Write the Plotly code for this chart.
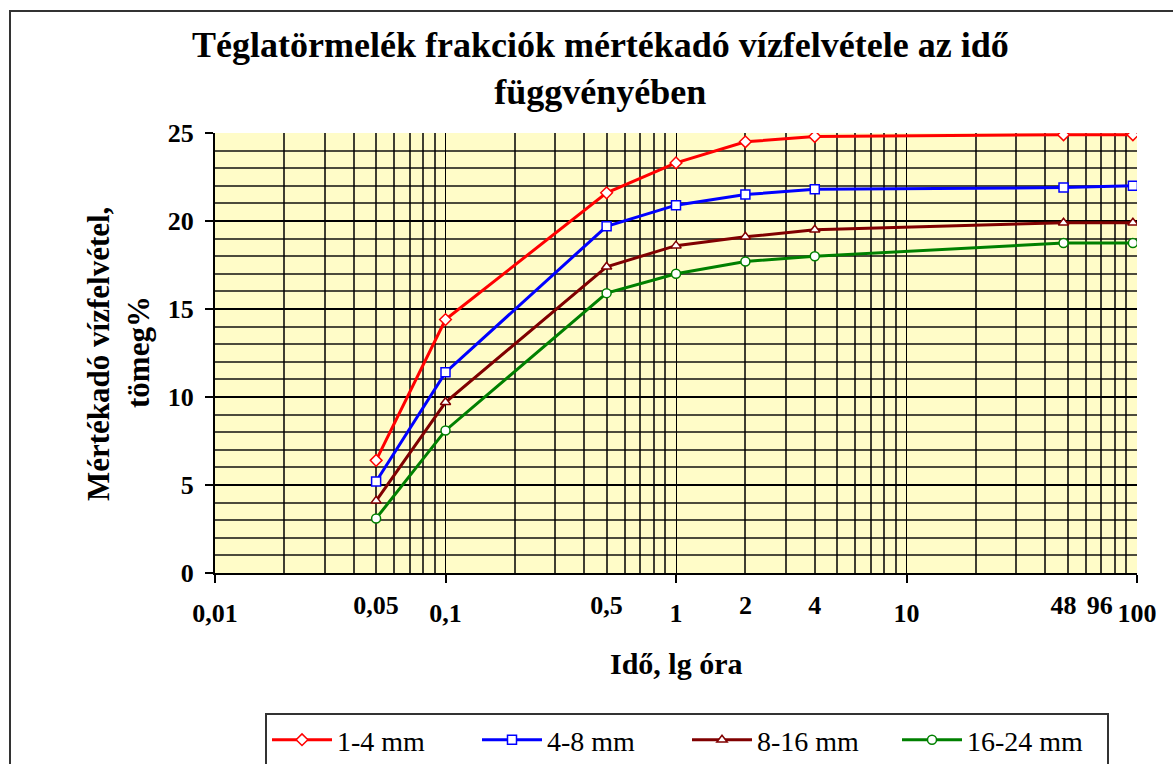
import plotly.graph_objects as go

# Data
time_h = [0.05, 0.1, 0.5, 1, 2, 4, 48, 96]
s_1_4 = [6.4, 14.4, 21.6, 23.3, 24.5, 24.8, 24.9, 24.9]
s_4_8 = [5.2, 11.4, 19.7, 20.9, 21.5, 21.8, 21.9, 22.0]
s_8_16 = [4.1, 9.7, 17.4, 18.6, 19.1, 19.5, 19.9, 19.9]
s_16_24 = [3.1, 8.1, 15.9, 17.0, 17.7, 18.0, 18.75, 18.75]
series_names = ["1-4 mm", "4-8 mm", "8-16 mm", "16-24 mm"]

decade_vals = [0.01, 0.1, 1, 10, 100]
decade_text = ["0,01", "0,1", "1", "10", "100"]
extra_vals = [0.05, 0.5, 2, 4, 48, 69]
extra_text = ["0,05", "0,5", "2", "4", "48", "96"]

minor_vals = []
for d in [0.01, 0.1, 1, 10]:
    for k in range(2, 10):
        minor_vals.append(round(d * k, 6))

colors = ["#FF0000", "#0000FF", "#800000", "#008000"]
symbols = ["diamond", "square", "triangle-up", "circle"]
data = [s_1_4, s_4_8, s_8_16, s_16_24]

SERIF = "Liberation Serif, Times New Roman, serif"

fig = go.Figure()
for name, ys, c, sym in zip(series_names, data, colors, symbols):
    fig.add_trace(go.Scatter(
        x=time_h, y=ys, name=name, mode="lines+markers",
        line=dict(color=c, width=3),
        marker=dict(symbol=sym, size=9, color="white", line=dict(color=c, width=1.5)),
    ))

# invisible trace on second x axis for extra labels
fig.add_trace(go.Scatter(x=[0.01, 100], y=[None, None], xaxis="x2", showlegend=False,
                         hoverinfo="skip"))

tickfont = dict(family=SERIF, size=26, color="black", weight="bold")

fig.update_layout(
    width=1173, height=764,
    margin=dict(l=215, r=36, t=133, b=191, autoexpand=False),
    paper_bgcolor="white",
    plot_bgcolor="#FFFCC8",
    xaxis=dict(
        type="log", range=[-2, 2], automargin=False,
        tickmode="array", tickvals=decade_vals, ticktext=decade_text,
        ticks="outside", ticklen=8, tickwidth=2, tickcolor="black",
        ticklabelstandoff=8,
        showgrid=True, gridcolor="black", gridwidth=1,
        minor=dict(tickmode="array", tickvals=minor_vals, showgrid=True,
                   gridcolor="rgba(0,0,0,0.75)", gridwidth=1.5, ticks=""),
        showline=True, linecolor="black", linewidth=2, mirror=False,
        tickfont=tickfont,
        zeroline=False,
    ),
    xaxis2=dict(
        type="log", range=[-2, 2], overlaying="x", side="bottom", automargin=False,
        tickmode="array", tickvals=extra_vals, ticktext=extra_text,
        ticks="", ticklabelstandoff=14, showgrid=False, showline=False, zeroline=False,
        tickfont=tickfont,
    ),
    yaxis=dict(
        range=[0, 25], tickmode="array", tickvals=[0, 5, 10, 15, 20, 25], automargin=False,
        ticks="outside", ticklen=8, tickwidth=2, tickcolor="black",
        ticklabelstandoff=6,
        showgrid=True, gridcolor="black", gridwidth=1.5,
        minor=dict(dtick=1, showgrid=True, gridcolor="rgba(0,0,0,0.7)", gridwidth=1.5, ticks=""),
        showline=True, linecolor="black", linewidth=2,
        tickfont=tickfont,
        zeroline=False,
    ),
    legend=dict(
        orientation="h", x=(265 - 215) / 922, xanchor="left", y=(573 - 713) / 440, yanchor="top",
        bordercolor="#333333", borderwidth=2, bgcolor="white",
        font=dict(family=SERIF, size=28, color="black"),
        entrywidth=135, itemwidth=60,
    ),
    showlegend=True,
    annotations=[
        dict(text="Téglatörmelék frakciók mértékadó vízfelvétele az idő<br>függvényében",
             xref="paper", yref="paper", x=(600 - 215) / 922, y=(573 - 68) / 440,
             xanchor="center", yanchor="middle", showarrow=False,
             font=dict(family=SERIF, size=36, color="black", weight="bold")),
        dict(text="Mértékadó vízfelvétel,", xref="paper", yref="paper",
             x=(98 - 215) / 922, y=(573 - 354) / 440, xanchor="center", yanchor="middle",
             textangle=-90, showarrow=False,
             font=dict(family=SERIF, size=31, color="black", weight="bold")),
        dict(text="tömeg%", xref="paper", yref="paper",
             x=(138 - 215) / 922, y=(573 - 352) / 440, xanchor="center", yanchor="middle",
             textangle=-90, showarrow=False,
             font=dict(family=SERIF, size=31, color="black", weight="bold")),
        dict(text="Idő, lg óra", xref="paper", yref="paper",
             x=0.5, y=(573 - 663) / 440, xanchor="center", yanchor="middle",
             showarrow=False, font=dict(family=SERIF, size=30, color="black", weight="bold")),
    ],
    shapes=[
        dict(type="rect", xref="paper", yref="paper",
             x0=(10 - 215) / 922, x1=2, y0=-2, y1=(573 - 11) / 440,
             line=dict(color="#333333", width=2), fillcolor="rgba(0,0,0,0)", layer="below"),
    ],
)

fig.write_html("out.html", config={"displayModeBar": False},
               post_script="document.body.style.margin='0';")
